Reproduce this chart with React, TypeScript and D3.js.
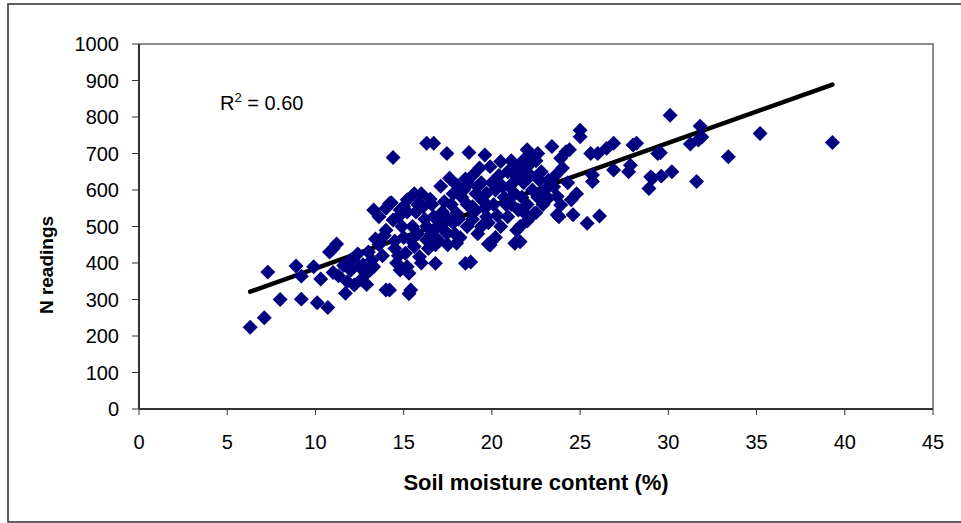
import React from 'react';
import * as d3 from 'd3';

// soil moisture (%)
const soilMoisture = [
  6.3, 7.1, 7.3, 8.0, 8.9, 9.2, 9.2, 9.9, 10.1, 10.7, 10.3, 10.8, 11.2, 11.0, 11.6, 11.7, 11.8, 12.4, 12.2, 12.9,
  12.9, 13.2, 13.4, 11.0, 12.0, 12.6, 12.1, 11.3, 12.7, 13.0, 12.5, 13.1, 12.0,
  13.3, 13.6, 14.0, 14.3, 14.4, 14.0, 14.4, 14.0, 13.3, 14.5, 14.6, 14.8, 14.5, 13.8, 13.6, 14.2, 14.7, 13.9,
  14.9, 14.7, 14.2,
  15.4, 15.3, 15.3, 15.2, 15.1, 15.4, 15.2, 15.0, 16.1, 16.7, 16.3, 15.9, 16.8, 16.0, 16.3, 16.7, 15.5, 15.8,
  16.5, 16.2, 15.7, 16.9, 16.4, 15.2, 16.0, 16.6, 15.6, 16.6,
  17.45, 17.6, 18.0, 18.7, 18.7, 17.3, 18.0, 18.9, 18.6, 17.45, 18.0, 18.5, 18.8, 17.0, 17.8, 18.3, 17.2, 18.2,
  17.5, 18.4, 17.8, 17.1, 18.9, 17.5, 18.5,
  19.6, 19.9, 20.5, 19.2, 19.7, 19.7, 20.9, 20.5, 19.9, 19.8, 21.0, 20.1, 20.4, 20.7, 19.4, 19.0, 20.2, 19.5,
  20.8, 19.3, 20.0, 19.2, 20.6, 19.8,
  21.8, 22.0, 22.2, 22.2, 21.4, 22.7, 21.4, 21.3, 21.6, 21.6, 22.4, 22.5, 21.5, 21.9, 22.3, 21.7, 22.0, 21.2,
  22.5, 22.8, 21.5, 22.0, 21.1, 22.6, 21.3,
  23.4, 23.9, 24.4, 23.2, 23.5, 24.8, 24.5, 23.1, 23.9, 23.8, 24.6, 23.1, 23.7, 23.7, 25.0, 25.0, 24.2, 24.0,
  23.6, 23.0, 24.3,
  25.4, 26.1, 25.7, 25.7, 26.0, 25.6, 26.5, 26.9, 28.0, 28.2, 27.85, 27.75, 26.9, 29.4, 29.0, 28.9, 29.1, 29.55,
  29.6, 30.2, 30.1,
  31.8, 31.7, 31.25, 33.4, 35.2, 39.3, 31.6, 31.9,
  // denser core
  15.8, 16.3, 17.0, 17.3, 17.7, 18.1, 18.6, 19.1, 19.6, 20.3, 21.1, 21.8, 22.2, 22.9, 19.4, 20.2, 18.9, 17.9,
  16.8, 15.0, 15.6, 14.8, 20.9, 21.8, 22.6,
];

// N readings, same order as soilMoisture
const nReadings = [
  224, 250, 375, 300, 392, 364, 301, 390, 291, 278, 356, 430, 452, 374, 393, 317, 349, 425, 340, 341,
  372, 408, 466, 440, 380, 355, 410, 365, 395, 430, 390, 381, 408,
  545, 527, 550, 565, 689, 490, 518, 326, 390, 440, 400, 381, 460, 420, 450, 563, 527, 475,
  500, 420, 326,
  326, 316, 372, 390, 427, 463, 573, 555, 554, 527, 463, 417, 399, 400, 728, 728, 500, 480,
  575, 520, 540, 500, 440, 540, 590, 560, 445, 480,
  700, 632, 614, 618, 703, 568, 536, 554, 500, 481, 454, 399, 403, 460, 510, 580, 540, 470,
  450, 600, 590, 610, 520, 520, 630,
  696, 664, 678, 609, 591, 527, 527, 500, 449, 452, 609, 560, 640, 580, 500, 540, 470, 570,
  560, 660, 620, 480, 610, 510,
  682, 710, 673, 696, 636, 627, 490, 454, 500, 458, 536, 538, 660, 650, 600, 580, 560, 620,
  680, 650, 545, 515, 680, 700, 590,
  719, 687, 710, 627, 609, 590, 573, 573, 559, 527, 532, 582, 582, 532, 764, 746, 705, 660,
  640, 600, 620,
  509, 529, 623, 641, 700, 700, 714, 728, 723, 728, 668, 650, 655, 700, 636, 604, 632, 702,
  638, 650, 805,
  775, 737, 726, 691, 755, 730, 623, 745,
  560, 500, 520, 490, 560, 520, 560, 590, 550, 530, 560, 620, 640, 560, 620, 600, 640, 480,
  450, 470, 590, 545, 650, 540, 580,
];

const xTicks = [0, 5, 10, 15, 20, 25, 30, 35, 40, 45];
const yTicks = [0, 100, 200, 300, 400, 500, 600, 700, 800, 900, 1000];

// linear trend as shown on the chart
const trendSlope = 17.2;
const trendIntercept = 213;
const rSquared = '0.60';

const font = 'Arial, "Liberation Sans", sans-serif';

export default function App() {
  const left = 139, right = 933, top = 44, bottom = 409;

  const x = d3.scaleLinear().domain([0, 45]).range([left, right]);
  const y = d3.scaleLinear().domain([0, 1000]).range([bottom, top]);

  const points = soilMoisture.map((m, i) => ({ m, n: nReadings[i] }));
  const [xMin, xMax] = d3.extent(soilMoisture) as [number, number];
  const trend = d3.line<number>()
    .x(d => x(d))
    .y(d => y(trendSlope * d + trendIntercept));

  const diamond = d3.symbol(d3.symbolSquare, 112)();

  return (
    <svg width={961} height={523} style={{ position: 'absolute', left: 0, top: 0, display: 'block' }}>
      <rect x={0} y={0} width={961} height={523} fill="#fff" />
      {/* outer chart frame (right edge falls outside the picture) */}
      <rect x={8} y={4} width={980} height={518} fill="none" stroke="#3a3a3a" strokeWidth={1.6} />

      {/* plot area: grey top/right border */}
      <path d={`M${left},${top}H${right}V${bottom}`} fill="none" stroke="#8c8c8c" strokeWidth={2} />

      {/* trend line */}
      <path d={trend([xMin, xMax]) || ''} fill="none" stroke="#000" strokeWidth={4.5} strokeLinecap="round" />

      {/* markers */}
      {points.map((p, i) => (
        <path key={i} d={diamond || ''} fill="#000080"
          transform={`translate(${x(p.m)},${y(p.n)}) rotate(45)`} />
      ))}

      {/* y axis */}
      <line x1={left} x2={left} y1={top} y2={bottom} stroke="#333" strokeWidth={2} />
      {yTicks.map(t => (
        <g key={t}>
          <line x1={left - 7} x2={left} y1={y(t)} y2={y(t)} stroke="#333" strokeWidth={1} />
          <text x={119} y={y(t)} dy="0.36em" textAnchor="end" fontFamily={font} fontSize={20} fill="#000">{t}</text>
        </g>
      ))}

      {/* x axis */}
      <line x1={left} x2={right} y1={bottom} y2={bottom} stroke="#333" strokeWidth={2} />
      {xTicks.map(t => (
        <g key={t}>
          <line x1={x(t)} x2={x(t)} y1={bottom} y2={bottom + 6} stroke="#333" strokeWidth={1} />
          <text x={x(t)} y={449} textAnchor="middle" fontFamily={font} fontSize={20} fill="#000">{t}</text>
        </g>
      ))}

      {/* titles */}
      <text x={536} y={490} textAnchor="middle" fontFamily={font} fontSize={22}
        fontWeight="bold" fill="#000">Soil moisture content (%)</text>
      <text transform="translate(53,265) rotate(-90)" textAnchor="middle"
        fontFamily={font} fontSize={19} fontWeight="bold" fill="#000">N readings</text>

      <text x={220} y={110} fontFamily={font} fontSize={20} fill="#000">
        R<tspan fontSize={13} dy={-8}>2</tspan><tspan dy={8}> = {rSquared}</tspan>
      </text>
    </svg>
  );
}
